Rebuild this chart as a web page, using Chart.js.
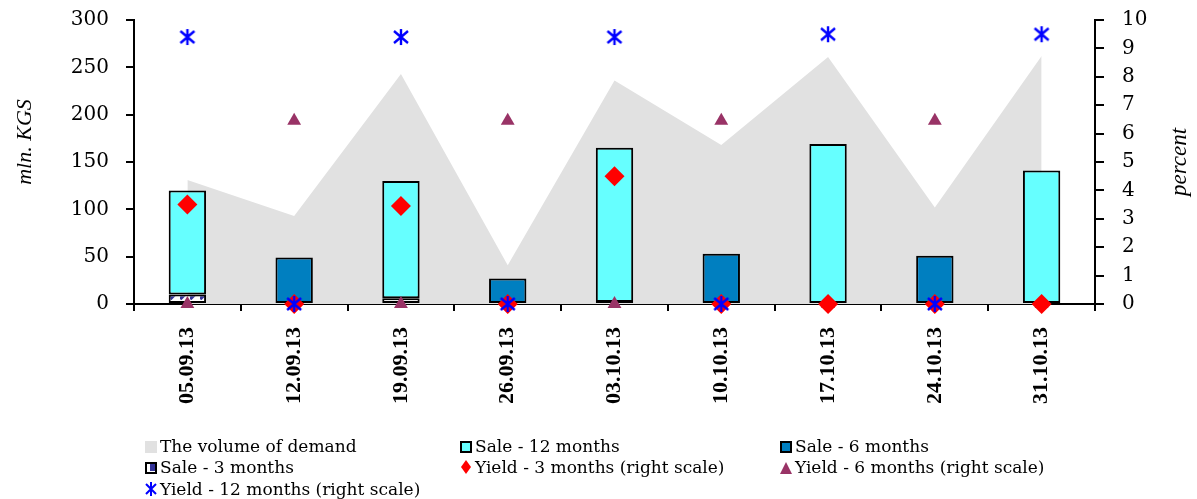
<!DOCTYPE html>
<html>
<head>
<meta charset="utf-8">
<script src="https://cdn.jsdelivr.net/npm/chart.js@4/dist/chart.umd.min.js"></script>
<style>
  body { margin: 0; background: #fff; }
  #wrap { position: relative; width: 1197px; height: 499px; }
  #legend { position: absolute; left: 0; top: 0; font-family: "DejaVu Serif", serif; font-size: 17px; color: #000; }
  .item { position: absolute; white-space: nowrap; line-height: 20px; }
  .item svg { vertical-align: -1px; margin-right: 3px; }
</style>
</head>
<body>
<div id="wrap">
  <canvas id="chart" width="1197" height="499"></canvas>
  <div id="legend"></div>
</div>
<script>
const dates = ['05.09.13', '12.09.13', '19.09.13', '26.09.13', '03.10.13', '10.10.13', '17.10.13', '24.10.13', '31.10.13'];
const demand = [131, 93, 243, 41, 236, 168, 261, 102, 262];
const sale3 = [10, null, 6, null, 2, null, null, null, null];
const sale12 = [110, null, 124, null, 163, null, 169, null, 141];
const sale6 = [null, 49, null, 27, null, 53, null, 51, null];
const yield3 = [3.5, 0, 3.45, 0, 4.5, 0, 0, 0, 0];
const yield6 = [0, 6.45, 0, 6.45, 0, 6.45, 0, 6.45, 0];
const yield12 = [9.4, 0, 9.4, 0, 9.4, 0, 9.5, 0, 9.5];

const cyan = '#66FFFF';
const blue6 = '#007FC0';
const grayArea = '#E1E1E1';
const purple = '#993366';

function makePattern() {
  const c = document.createElement('canvas');
  c.width = 10; c.height = 10;
  const g = c.getContext('2d');
  g.fillStyle = '#fff'; g.fillRect(0, 0, 10, 10);
  g.strokeStyle = '#333399'; g.lineWidth = 3.5;
  g.beginPath(); g.moveTo(0, 9); g.lineTo(6, 3); g.stroke();
  return g.createPattern(c, 'repeat');
}
const pattern3 = makePattern();

function starIcon() {
  const c = document.createElement('canvas');
  c.width = 18; c.height = 18;
  const g = c.getContext('2d');
  g.strokeStyle = '#0000FF'; g.lineWidth = 2.4;
  g.beginPath();
  g.moveTo(2, 3); g.lineTo(16, 15);
  g.moveTo(16, 3); g.lineTo(2, 15);
  g.moveTo(9, 1); g.lineTo(9, 17);
  g.stroke();
  return c;
}

function drawVertical(ctx, text, x, y, size) {
  ctx.save();
  ctx.fillStyle = '#000';
  ctx.font = 'italic ' + size + 'px "Liberation Serif"';
  ctx.textAlign = 'center';
  ctx.textBaseline = 'middle';
  ctx.translate(x, y); ctx.rotate(-Math.PI / 2);
  ctx.fillText(text, 0, 0);
  ctx.restore();
}

// both axis titles read bottom-to-top
const titles = {
  id: 'titles',
  afterDraw(chart) {
    drawVertical(chart.ctx, 'mln. KGS', 25, 142, 22);
    drawVertical(chart.ctx, 'percent', 1180, 162, 23);
  }
};

const tickFont = { family: '"DejaVu Serif"', size: 20 };

// fixed sizes for the axes so the plot area sits where the original has it
const fixVertical = w => s => { s.width = w; s.paddingTop = 0; s.paddingBottom = 0; };

new Chart(document.getElementById('chart'), {
  type: 'bar',
  data: {
    labels: dates,
    datasets: [
      { type: 'line', label: 'Yield - 3 months (right scale)', data: yield3, yAxisID: 'y1', showLine: false, clip: false,
        pointStyle: 'rectRot', pointRadius: 10, backgroundColor: '#FF0000', borderColor: '#FF0000', borderWidth: 0, order: 1 },
      { type: 'line', label: 'Yield - 6 months (right scale)', data: yield6, yAxisID: 'y1', showLine: false, clip: false,
        pointStyle: 'triangle', pointRadius: 8, backgroundColor: purple, borderColor: purple, borderWidth: 0, order: 2 },
      { type: 'line', label: 'Yield - 12 months (right scale)', data: yield12, yAxisID: 'y1', showLine: false, clip: false,
        pointStyle: starIcon(), order: 0 },
      { label: 'Sale - 3 months', data: sale3, backgroundColor: pattern3, borderColor: '#000', borderWidth: 2,
        borderSkipped: false, stack: 's', order: 5 },
      { label: 'Sale - 12 months', data: sale12, backgroundColor: cyan, borderColor: '#000', borderWidth: 2,
        borderSkipped: false, stack: 's', order: 5 },
      { label: 'Sale - 6 months', data: sale6, backgroundColor: blue6, borderColor: '#000', borderWidth: 2,
        borderSkipped: false, stack: 's', order: 5 },
      { type: 'line', label: 'The volume of demand', data: demand, fill: 'origin', backgroundColor: grayArea,
        borderWidth: 0, pointRadius: 0, tension: 0, order: 10 }
    ]
  },
  options: {
    responsive: false,
    animation: false,
    layout: { padding: { top: 20, left: 0, right: 0, bottom: 0 } },
    datasets: { bar: { barPercentage: 0.35, categoryPercentage: 1 } },
    plugins: { legend: { display: false }, tooltip: { enabled: false } },
    scales: {
      x: {
        stacked: true,
        afterFit: s => { s.height = 195; s.paddingLeft = 0; s.paddingRight = 0; },
        grid: { drawOnChartArea: false, tickLength: 7, tickColor: '#000', lineWidth: 2, offset: true },
        border: { color: '#000', width: 2 },
        ticks: { color: '#000', font: { family: '"Liberation Serif"', size: 22, weight: 'bold' },
          minRotation: 90, maxRotation: 90, padding: 16 }
      },
      y: {
        stacked: true,
        position: 'left',
        min: 0, max: 300,
        afterFit: fixVertical(134),
        grid: { drawOnChartArea: false, tickLength: 8, tickColor: '#000', lineWidth: 2 },
        border: { color: '#000', width: 2 },
        ticks: { stepSize: 50, color: '#000', font: tickFont, padding: 17, autoSkip: false }
      },
      y1: {
        position: 'right',
        min: 0, max: 10,
        afterFit: fixVertical(102),
        grid: { drawOnChartArea: false, tickLength: 9, tickColor: '#000', lineWidth: 2 },
        border: { color: '#000', width: 2 },
        ticks: { stepSize: 1, color: '#000', font: tickFont, padding: 18, autoSkip: false }
      }
    }
  },
  plugins: [titles]
});

// legend below the axis, three columns like the original
const legendItems = [
  { text: 'The volume of demand', x: 145, y: 436, svg: '<svg width="12" height="12"><rect x="0" y="0" width="12" height="12" fill="' + grayArea + '"/></svg>' },
  { text: 'Sale - 12 months', x: 460, y: 436, svg: '<svg width="12" height="12"><rect x="1" y="1" width="10" height="10" fill="' + cyan + '" stroke="#000" stroke-width="2"/></svg>' },
  { text: 'Sale - 6 months', x: 780, y: 436, svg: '<svg width="12" height="12"><rect x="1" y="1" width="10" height="10" fill="' + blue6 + '" stroke="#000" stroke-width="2"/></svg>' },
  { text: 'Sale - 3 months', x: 145, y: 457, svg: '<svg width="12" height="12"><rect x="1" y="1" width="10" height="10" fill="#fff" stroke="#000" stroke-width="2"/><rect x="5" y="2" width="5" height="7" fill="#333399"/></svg>' },
  { text: 'Yield - 3 months (right scale)', x: 460, y: 457, svg: '<svg width="12" height="14"><polygon points="6,0 11,7 6,14 1,7" fill="#FF0000"/></svg>' },
  { text: 'Yield - 6 months (right scale)', x: 780, y: 457, svg: '<svg width="12" height="12"><polygon points="6,0 12,12 0,12" fill="' + purple + '"/></svg>' },
  { text: 'Yield - 12 months (right scale)', x: 145, y: 479, svg: '<svg width="12" height="14"><path d="M1,2 L11,12 M11,2 L1,12 M6,0 L6,14" stroke="#0000FF" stroke-width="2"/></svg>' }
];
const legend = document.getElementById('legend');
legendItems.forEach(it => {
  const d = document.createElement('div');
  d.className = 'item';
  d.style.left = it.x + 'px';
  d.style.top = it.y + 'px';
  d.innerHTML = it.svg + it.text;
  legend.appendChild(d);
});
</script>
</body>
</html>
